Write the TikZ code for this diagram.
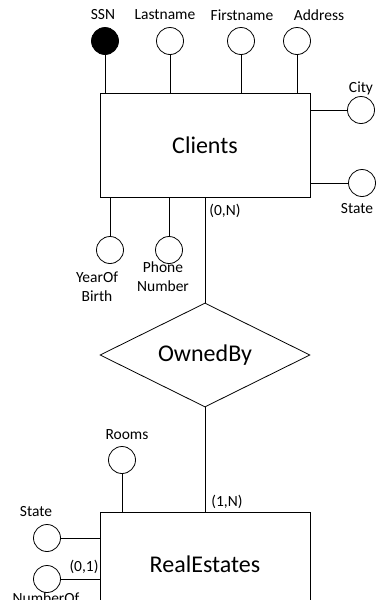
\documentclass[tikz,border=0pt]{standalone}
\usepackage{fontspec}
\setmainfont{Carlito}
\usetikzlibrary{shapes.geometric}
\begin{document}
\begin{tikzpicture}[x=1pt,y=-1pt,line width=0.8pt,
  attr/.style={circle,draw,fill=white,minimum size=27pt,inner sep=0pt},
  key/.style={attr,fill=black},
  ent/.style={draw,minimum width=210pt,minimum height=104pt,inner sep=0pt,font=\fontsize{24}{28}\selectfont},
  rel/.style={diamond,draw,aspect=2,minimum width=210pt,minimum height=104pt,inner sep=0pt,font=\fontsize{24}{28}\selectfont},
  lbl/.style={font=\fontsize{15.5}{19}\selectfont,inner sep=0pt,align=center}]
\useasboundingbox (0,0) rectangle (376,600);
\clip (0,0) rectangle (376,600);
% Clients
\node[ent] (clients) at (205,145) {Clients};
\node[key] (ssn) at (105,41) {};
\node[attr] (lastname) at (170,41) {};
\node[attr] (firstname) at (241,41) {};
\node[attr] (address) at (297,41) {};
\node[lbl] (lssn) at (103,15) {SSN};
\node[lbl] (llastname) at (165,15) {Lastname};
\node[lbl] (lfirstname) at (242,15) {Firstname};
\node[lbl] (laddress) at (319,15) {Address};
\node[attr] (city) at (361,110) {};
\node[lbl] (lcity) at (361,88) {City};
\node[attr] (state) at (362,183) {};
\node[lbl] (lstate) at (357,209) {State};
\node[attr] (yob) at (110,250) {};
\node[lbl] (lyob) at (97,287) {YearOf\\Birth};
\node[attr] (phone) at (169,250) {};
\node[lbl] (lphone) at (163,277) {Phone\\Number};
\node[lbl] (l0n) at (225,211) {(0,N)};
\foreach \a in {ssn,lastname,firstname,address}
  \draw (\a) -- (\a |- clients.north);
\foreach \a in {yob,phone}
  \draw (\a) -- (\a |- clients.south);
\foreach \a in {city,state}
  \draw (\a) -- (\a -| clients.east);
% relationship
\node[rel] (owned) at (205,355) {OwnedBy};
\draw (clients.south) -- (owned.north);
% RealEstates
\node[ent] (real) at (205,564) {RealEstates};
\draw (owned.south) -- (real.north);
\node[lbl] (l1n) at (227,502) {(1,N)};
\node[attr] (rooms) at (122,460) {};
\node[lbl] (lrooms) at (127,435) {Rooms};
\draw (rooms) -- (rooms |- real.north);
\node[attr] (rstate) at (47,538) {};
\node[lbl] (lrstate) at (36,512) {State};
\draw (rstate) -- (rstate -| real.west);
\node[attr] (numof) at (47,579) {};
\node[lbl,anchor=base] (lnumof) at (46,603) {NumberOf};
\node[lbl] (l01) at (84,567) {(0,1)};
\draw (numof) -- (numof -| real.west);
\end{tikzpicture}
\end{document}
